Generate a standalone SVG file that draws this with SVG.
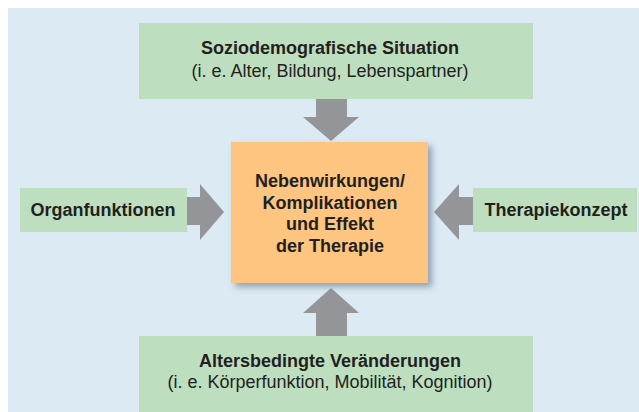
<svg xmlns="http://www.w3.org/2000/svg" width="639" height="412" viewBox="0 0 639 412">
<defs>
<style>
.bg{fill:#dbeaf3}
.g{fill:#bddfbf}
.o{fill:#fec580}
.a{fill:#939598}
text{font-family:"Liberation Sans",Arial,sans-serif;fill:#231f20;text-anchor:middle;font-size:18px}
.b{font-weight:bold}
</style>
<filter id="sh" x="-10%" y="-10%" width="130%" height="130%">
<feDropShadow dx="4" dy="4" stdDeviation="3" flood-color="#5f7585" flood-opacity="0.6"/>
</filter>
</defs>
<rect x="0" y="0" width="639" height="412" fill="#ffffff"/>
<rect class="bg" x="8" y="8" width="631" height="404"/>
<g id="connectors">
<polygon class="a" points="316,99 347,99 347,117 359,117 331,141 303,117 316,117"/>
<polygon class="a" points="316,336 347,336 347,313 359,313 331,288 303,313 316,313"/>
<polygon class="a" points="187,197 200,197 200,184 224,212 200,240 200,225 187,225"/>
<polygon class="a" points="473,197 459,197 459,184 434,212 459,240 459,225 473,225"/>
</g>
<g id="top">
<rect class="g" x="139" y="23" width="394" height="76"/>
<text class="b" x="330" y="54">Soziodemografische Situation</text>
<text x="330" y="77">(i. e. Alter, Bildung, Lebenspartner)</text>
</g>
<g id="center">
<rect class="o" x="231" y="142" width="197" height="141" filter="url(#sh)"/>
<text class="b" x="330" y="187">Nebenwirkungen/</text>
<text class="b" x="330" y="209">Komplikationen</text>
<text class="b" x="330" y="230">und Effekt</text>
<text class="b" x="330" y="252">der Therapie</text>
</g>
<g id="left">
<rect class="g" x="20" y="188" width="167" height="44"/>
<text class="b" x="103" y="216">Organfunktionen</text>
</g>
<g id="right">
<rect class="g" x="473" y="188" width="164" height="44"/>
<text class="b" x="556" y="216">Therapiekonzept</text>
</g>
<g id="bottom">
<rect class="g" x="139" y="336" width="394" height="76"/>
<text class="b" x="330" y="367">Altersbedingte Veränderungen</text>
<text x="330" y="388">(i. e. Körperfunktion, Mobilität, Kognition)</text>
</g>
</svg>
